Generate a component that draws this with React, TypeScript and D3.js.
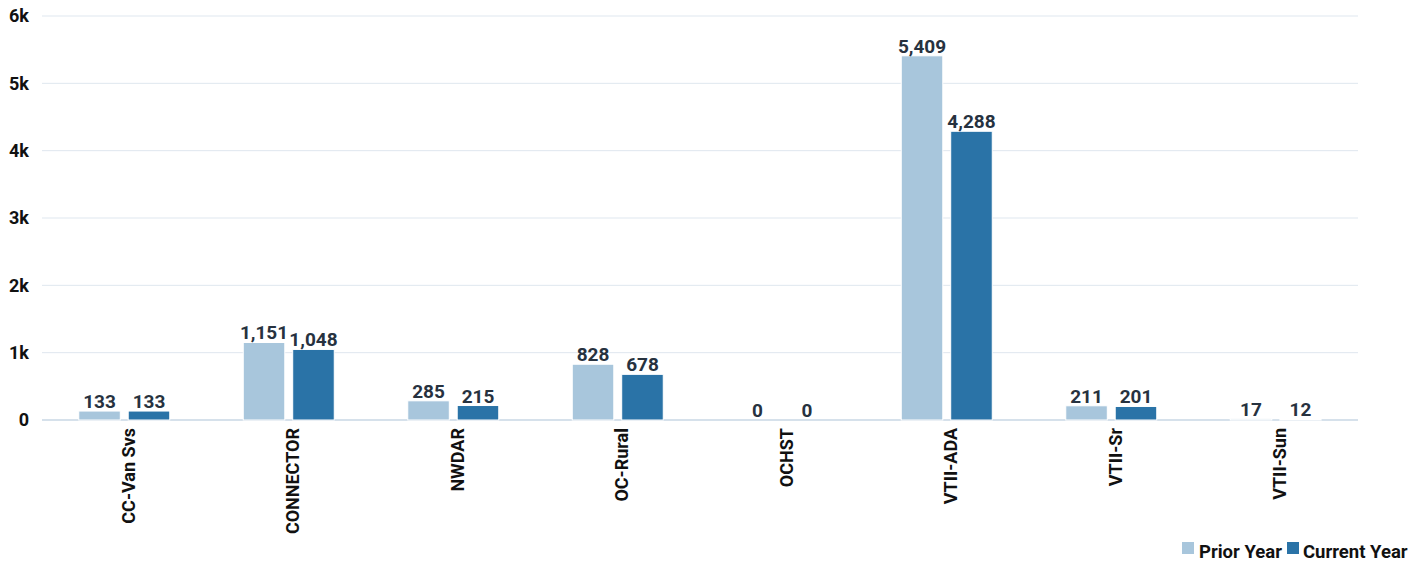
import React from 'react';
import * as d3 from 'd3';

const categories = ['CC-Van Svs', 'CONNECTOR', 'NWDAR', 'OC-Rural', 'OCHST', 'VTII-ADA', 'VTII-Sr', 'VTII-Sun'];
const priorYear = [133, 1151, 285, 828, 0, 5409, 211, 17];
const currentYear = [133, 1048, 215, 678, 0, 4288, 201, 12];
const yTicks = [0, 1000, 2000, 3000, 4000, 5000, 6000];
const seriesNames = ['Prior Year', 'Current Year'];

const colors = ['#a8c6dc', '#2a73a7'];
const width = 1426;
const height = 564;
const margin = { top: 16, right: 68, bottom: 144, left: 42 };

const App: React.FC = () => {
  const x = d3.scaleBand()
    .domain(categories)
    .range([margin.left, width - margin.right])
    .paddingInner(0)
    .paddingOuter(0);

  const inner = d3.scaleBand()
    .domain(seriesNames)
    .range([x.bandwidth() / 2 - 45.5, x.bandwidth() / 2 + 45.5])
    .paddingInner(0.16);

  const y = d3.scaleLinear()
    .domain([0, 6000])
    .range([height - margin.bottom, margin.top]);

  const fmt = d3.format(',');
  const series = [priorYear, currentYear];
  const font = 'Roboto, "Noto Sans", sans-serif';

  return (
    <svg width={width} height={height} style={{ position: 'absolute', left: 0, top: 0 }} fontFamily={font}>
      <rect width={width} height={height} fill="#fff" />
      {yTicks.map(t => (
        <g key={t}>
          <line x1={margin.left} x2={width - margin.right} y1={y(t)} y2={y(t)}
            stroke={t === 0 ? '#c9d7e4' : '#dfe7ef'} strokeWidth={t === 0 ? 1.5 : 1} />
          <text x={29} y={y(t)} dy="0.36em" textAnchor="end" fontSize={18} fontWeight="bold" fill="#111">
            {d3.format('~s')(t)}
          </text>
        </g>
      ))}
      {categories.map((c, i) => (
        <g key={c} transform={`translate(${x(c)},0)`}>
          {series.map((s, j) => {
            const bx = inner(seriesNames[j]) as number;
            const v = s[i];
            return (
              <g key={j}>
                {v > 0 && (
                  <rect x={bx} y={y(v)} width={inner.bandwidth()} height={y(0) - y(v)}
                    fill={colors[j]} stroke="#fff" strokeWidth={1} />
                )}
                <text x={bx + inner.bandwidth() / 2} y={y(v) - 3} textAnchor="middle"
                  fontSize={19} fontWeight="bold" fill="#27323f">
                  {fmt(v)}
                </text>
              </g>
            );
          })}
          <text transform={`translate(${x.bandwidth() / 2 + 4},428) rotate(-90)`} dy="0.36em"
            textAnchor="end" fontSize={18} fontWeight="bold" fill="#111">
            {c}
          </text>
        </g>
      ))}
      <g fontSize={18.5} fontWeight="bold" fill="#111">
        <rect x={1182} y={542} width={12} height={12} fill={colors[0]} />
        <text x={1199} y={558}>{seriesNames[0]}</text>
        <rect x={1287} y={542} width={12} height={12} fill={colors[1]} />
        <text x={1303} y={558}>{seriesNames[1]}</text>
      </g>
    </svg>
  );
};

export default App;
